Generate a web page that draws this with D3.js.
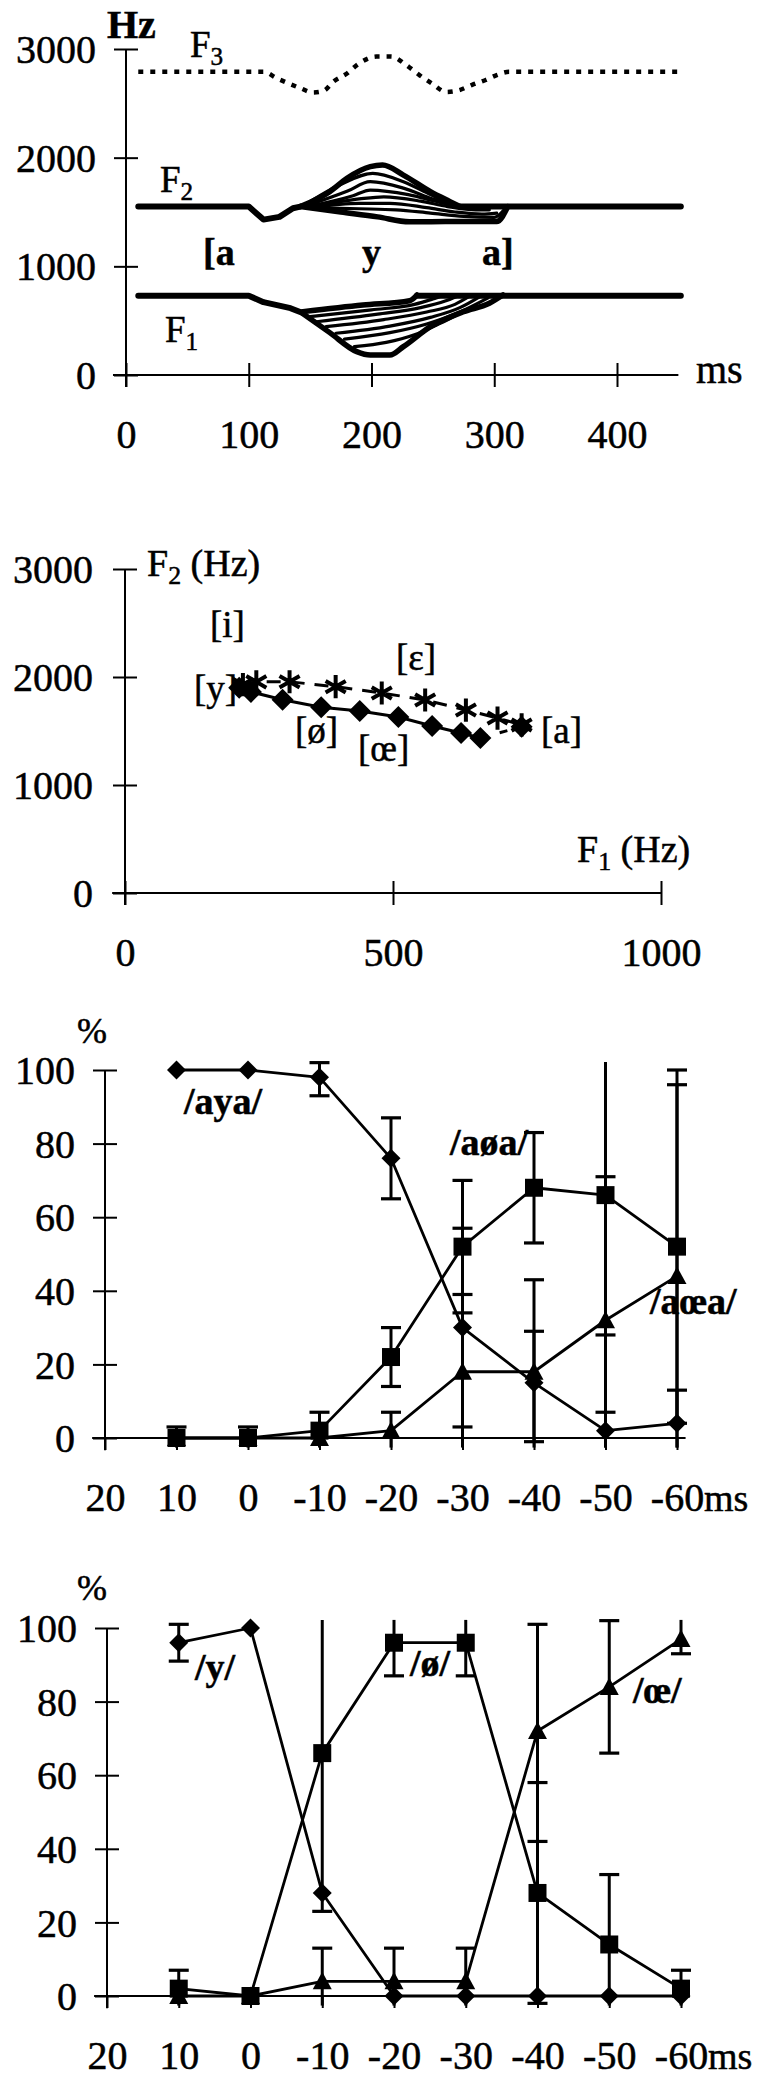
<!DOCTYPE html>
<html>
<head>
<meta charset="utf-8">
<script src="https://cdn.jsdelivr.net/npm/d3@7"></script>
<style>
  body { margin: 0; background: #fff; }
  svg { display: block; }
  text { font-family: "Liberation Serif", "Times New Roman", serif; fill: #000; stroke: #000; stroke-width: 0.5px; }
</style>
</head>
<body>
<div class="container"></div>
<script>
const w = 759;
const h = 2081;

// ---- panel 1: formant tracks [a y a] (ms, Hz)
const msTicks = [0, 100, 200, 300, 400];
const hzTicks = [0, 1000, 2000, 3000];
const f3Track = [[10,2790],[112,2790],[123,2730],[142,2640],[152,2600],[161,2615],[169,2700],[180,2775],[189,2860],[204,2930],[216,2930],[228,2855],[239,2760],[249,2685],[261,2605],[271,2620],[282,2670],[293,2715],[302,2760],[312,2790],[452,2790]];
const f2Left = [[10,1550],[100,1550],[112,1430],[125,1455],[136,1535],[142,1550]];
const f2Right = [[272,1550],[452,1550]];
const f2Fan = [
  [[142,1550],[166,1687],[180,1810],[199,1917],[209,1932],[226,1840],[248,1687],[264,1595],[272,1550]],
  [[145,1560],[174,1748],[201,1856],[226,1779],[248,1660],[266,1570],[274,1550]],
  [[148,1560],[180,1690],[199,1779],[226,1720],[250,1620],[270,1556],[280,1545]],
  [[150,1555],[185,1650],[199,1702],[230,1660],[255,1590],[275,1545],[288,1540]],
  [[152,1550],[190,1620],[210,1640],[240,1600],[262,1550],[285,1520],[296,1520]],
  [[152,1545],[190,1580],[215,1580],[245,1540],[268,1500],[290,1480],[302,1490]],
  [[150,1540],[190,1530],[220,1520],[248,1490],[275,1460],[300,1450],[308,1520]],
  [[142,1550],[175,1500],[205,1455],[231,1410],[260,1412],[302,1412],[311,1550]]
];
const f1Left = [[10,730],[100,730],[112,670],[134,615],[144,570]];
const f1Right = [[237,730],[452,730]];
const f1Fan = [
  [[144,583],[193,644],[231,684],[237,736]],
  [[150,537],[200,600],[235,650],[250,700],[258,730]],
  [[155,490],[205,560],[240,620],[260,680],[270,725]],
  [[163,445],[210,510],[245,580],[268,650],[280,725]],
  [[171,384],[215,450],[248,530],[272,620],[288,720]],
  [[178,330],[215,390],[245,470],[272,580],[295,710]],
  [[186,261],[212,300],[235,370],[255,470],[275,585]],
  [[144,567],[166,390],[188,215],[199,184],[215,184],[226,261],[248,445],[275,583],[296,660],[307,736]]
];

// ---- panel 2: F1/F2 plane
const f1Ticks = [0, 500, 1000];
const f2Ticks = [0, 1000, 2000, 3000];
const diamondF1 = [213, 235, 294, 366, 438, 510, 573, 627, 663];
const diamondF2 = [1900, 1862, 1790, 1720, 1685, 1630, 1546, 1481, 1435];
const starF1 = [220, 245, 307, 393, 479, 560, 636, 695, 740];
const starF2 = [1930, 1955, 1956, 1910, 1852, 1787, 1694, 1620, 1556];
const vowelA = [740, 1540];

// ---- panels 3 and 4: identification (%)
const votTicks = [20, 10, 0, -10, -20, -30, -40, -50, -60];
const vot = [10, 0, -10, -20, -30, -40, -50, -60];
const pctTicks = [0, 20, 40, 60, 80, 100];

const ayaPct = [100, 100, 98, 76, 30, 15, 2, 4];
const ayaErr = [null, null, [93,102], [65,87], [3,57], [-1,29], [-3,7], [-5,13]];
const aoaPct = [0, 0, 2, 22, 52, 68, 66, 52];
const aoaErr = [[-3,3], [-3,3], [-3,7], [14,30], [34,70], [53,83], [28,104], [4,100]];
const aoeaPct = [0, 0, 0, 2, 18, 18, 32, 44];
const aoeaErr = [null, null, null, [-3,7], [-5,39], [-7,43], [-7,71], [-8,96]];

const yPct = [96, 100, 28, 0, 0, 0, 0, 0];
const yErr = [[91,101], null, null, null, null, null, null, null];
const oPct = [2, 0, 66, 96, 96, 28, 14, 2];
const oErr = [[-3,7], null, [23,109], [87,105], [87,105], [-2,58], [-5,33], [-3,7]];
const oePct = [0, 0, 4, 4, 4, 72, 84, 97];
const oeErr = [null, null, [-5,13], [-5,13], [-5,13], [42,101], [66,102], [93,103]];

const serif = '"Liberation Serif", "Times New Roman", serif';
const tickFont = 40;

const svg = d3.select('.container').append('svg')
  .attr('width', w)
  .attr('height', h);

svg.append('rect').attr('width', w).attr('height', h).attr('fill', '#fff');

function txt(g, x, y, s, size, weight) {
  return g.append('text')
    .attr('x', x).attr('y', y)
    .attr('font-size', size)
    .attr('font-weight', weight || 'normal')
    .text(s);
}

function subLabel(g, x, y, main, sub, rest, size) {
  const t = g.append('text').attr('x', x).attr('y', y).attr('font-size', size);
  t.append('tspan').text(main);
  t.append('tspan').attr('font-size', size * 0.68).attr('dy', 8).text(sub);
  if (rest) t.append('tspan').attr('dy', -8).text(rest);
}

function xAxis(g, x, y0, ticks, both, fmt) {
  g.append('g')
    .attr('transform', `translate(0,${y0})`)
    .call(d3.axisBottom(x).tickValues(ticks).tickSize(12).tickFormat(fmt || (d => String(d))))
    .call(a => {
      a.attr('font-size', tickFont).attr('font-family', serif);
      a.select('.domain').remove();
      a.selectAll('.tick line').attr('stroke', '#000').attr('stroke-width', 2)
        .attr('y1', both ? -12 : 0).attr('y2', 12);
      a.selectAll('.tick text').attr('fill', '#000').attr('y', 73).attr('dy', null);
    });
}

function yAxis(g, y, x0, ticks, labelGap) {
  g.append('g')
    .attr('transform', `translate(${x0},0)`)
    .call(d3.axisLeft(y).tickValues(ticks).tickSize(12).tickFormat(d => String(d)))
    .call(a => {
      a.attr('font-size', tickFont).attr('font-family', serif);
      a.select('.domain').remove();
      a.selectAll('.tick line').attr('stroke', '#000').attr('stroke-width', 2)
        .attr('x1', -12).attr('x2', 12);
      a.selectAll('.tick text').attr('fill', '#000').attr('x', -labelGap).attr('dy', '0.34em');
    });
}

function rule(g, x1, y1, x2, y2) {
  g.append('line').attr('x1', x1).attr('y1', y1).attr('x2', x2).attr('y2', y2)
    .attr('stroke', '#000').attr('stroke-width', 2);
}

// ================= panel 1 =================
{
  const g = svg.append('g');
  const x = d3.scaleLinear([0, 400], [126, 617]);
  const y = d3.scaleLinear([0, 3000], [375, 49]);

  rule(g, x(-10.6), y(0), x(450), y(0));
  rule(g, x(0), y(3000), x(0), y(-110));
  xAxis(g, x, y(0), msTicks, true, d3.format('d'));
  yAxis(g, y, x(0), hzTicks, 30);

  const lin = d3.line().x(d => x(d[0])).y(d => y(d[1]));
  const smooth = d3.line().x(d => x(d[0])).y(d => y(d[1])).curve(d3.curveMonotoneX);

  g.append('path').attr('d', smooth(f3Track))
    .attr('fill', 'none').attr('stroke', '#000').attr('stroke-width', 4.5)
    .attr('stroke-dasharray', '5,7');

  [f2Left, f2Right, f1Left, f1Right].forEach(p => {
    g.append('path').attr('d', lin(p))
      .attr('fill', 'none').attr('stroke', '#000').attr('stroke-width', 6)
      .attr('stroke-linejoin', 'round').attr('stroke-linecap', 'round');
  });

  [f2Fan, f1Fan].forEach(fan => {
    fan.forEach((p, i) => {
      const edge = i === 0 || i === fan.length - 1;
      g.append('path').attr('d', smooth(p))
        .attr('fill', 'none').attr('stroke', '#000')
        .attr('stroke-width', edge ? 5.5 : 3.2)
        .attr('stroke-linejoin', 'round').attr('stroke-linecap', 'round');
    });
  });

  txt(g, 107, 38, 'Hz', 40, 'bold');
  subLabel(g, 190, 57, 'F', '3', null, 37);
  subLabel(g, 160, 192, 'F', '2', null, 37);
  subLabel(g, 165, 342, 'F', '1', null, 37);
  txt(g, 203, 265, '[a', 38, 'bold');
  txt(g, 362, 265, 'y', 38, 'bold');
  txt(g, 482, 265, 'a]', 38, 'bold');
  txt(g, 696, 383, 'ms', 40);
}

// ================= panel 2 =================
{
  const g = svg.append('g');
  const x = d3.scaleLinear([0, 1000], [125, 661]);
  const y = d3.scaleLinear([0, 3000], [893, 569]);

  rule(g, x(-24), y(0), x(1000), y(0));
  rule(g, x(0), y(3000), x(0), y(-110));
  xAxis(g, x, y(0), f1Ticks, true, d3.format('d'));
  yAxis(g, y, x(0), f2Ticks, 32);

  const lin = d3.line().x(d => x(d[0])).y(d => y(d[1]));
  const dia = diamondF1.map((v, i) => [v, diamondF2[i]]);
  const star = starF1.map((v, i) => [v, starF2[i]]);

  g.append('path').attr('d', lin(star))
    .attr('fill', 'none').attr('stroke', '#000').attr('stroke-width', 3)
    .attr('stroke-dasharray', '14,10');
  g.append('path').attr('d', lin(dia))
    .attr('fill', 'none').attr('stroke', '#000').attr('stroke-width', 3);
  g.append('path').attr('d', lin([dia[dia.length - 1], vowelA]))
    .attr('fill', 'none').attr('stroke', '#000').attr('stroke-width', 3)
    .attr('stroke-dasharray', '8,12');

  const starSym = d3.symbol(d3.symbolAsterisk, 380);
  g.selectAll('.star').data(star).join('path')
    .attr('transform', d => `translate(${x(d[0])},${y(d[1])})`)
    .attr('d', starSym)
    .attr('fill', 'none').attr('stroke', '#000').attr('stroke-width', 4);

  g.selectAll('.dia').data(dia.concat([vowelA])).join('path')
    .attr('transform', d => `translate(${x(d[0])},${y(d[1])})`)
    .attr('d', 'M0,-11L11,0L0,11L-11,0Z')
    .attr('fill', '#000');

  subLabel(g, 147, 576, 'F', '2', ' (Hz)', 38);
  subLabel(g, 577, 862, 'F', '1', ' (Hz)', 38);
  txt(g, 210, 637, '[i]', 37);
  txt(g, 396, 670, '[\u025b]', 37);
  txt(g, 194, 701, '[y]', 37);
  txt(g, 295, 743, '[\u00f8]', 37);
  txt(g, 358, 761, '[\u0153]', 37);
  txt(g, 541, 743, '[a]', 37);
}

// ================= panels 3 and 4 =================
const shapes = {
  diamond: 'M0,-9.5L9.5,0L0,9.5L-9.5,0Z',
  square: 'M-9,-9H9V9H-9Z',
  triangle: 'M0,-9.5L9.5,8H-9.5Z'
};

function pctPanel(xRange, yRange, series, labels, pctY) {
  const g = svg.append('g');
  const x = d3.scaleLinear([20, -60], xRange);
  const y = d3.scaleLinear([0, 100], yRange);
  const lo = -2.6, hi = 102.2;

  rule(g, x(21.8), y(0), x(-61.2), y(0));
  rule(g, x(20), y(100), x(20), y(-3.3));
  xAxis(g, x, y(0), votTicks, false);
  yAxis(g, y, x(20), pctTicks, 30);

  const lin = d3.line().x((d, i) => x(vot[i])).y(d => y(d));

  series.forEach(s => {
    g.append('path').attr('d', lin(s.vals))
      .attr('fill', 'none').attr('stroke', '#000').attr('stroke-width', 2.8)
      .attr('stroke-linejoin', 'round');
  });

  series.forEach(s => {
    s.err.forEach((e, i) => {
      if (!e) return;
      const a = Math.max(e[0], lo), b = Math.min(e[1], hi);
      const cx = x(vot[i]);
      g.append('line').attr('x1', cx).attr('x2', cx).attr('y1', y(a)).attr('y2', y(b))
        .attr('stroke', '#000').attr('stroke-width', 3);
      [[e[0], a], [e[1], b]].forEach(([raw, v]) => {
        if (raw !== v) return;
        g.append('line').attr('x1', cx - 10).attr('x2', cx + 10).attr('y1', y(v)).attr('y2', y(v))
          .attr('stroke', '#000').attr('stroke-width', 3.2);
      });
    });
  });

  series.forEach(s => {
    g.selectAll(null).data(s.vals).join('path')
      .attr('transform', (d, i) => `translate(${x(vot[i])},${y(d)})`)
      .attr('d', shapes[s.shape])
      .attr('fill', '#000');
  });

  txt(g, 77, pctY, '%', 36);
  txt(g, x(-60) + 27, y(0) + 73, 'ms', 38);
  labels.forEach(l => txt(g, l[0], l[1], l[2], 38, 'bold'));
}

pctPanel([105, 677], [1438, 1070], [
  { vals: ayaPct, err: ayaErr, shape: 'diamond' },
  { vals: aoaPct, err: aoaErr, shape: 'square' },
  { vals: aoeaPct, err: aoeaErr, shape: 'triangle' }
], [
  [184, 1114, '/aya/'],
  [450, 1155, '/a\u00f8a/'],
  [650, 1314, '/a\u0153a/']
], 1043);

pctPanel([107, 681], [1996, 1628], [
  { vals: yPct, err: yErr, shape: 'diamond' },
  { vals: oPct, err: oErr, shape: 'square' },
  { vals: oePct, err: oeErr, shape: 'triangle' }
], [
  [195, 1680, '/y/'],
  [410, 1676, '/\u00f8/'],
  [633, 1703, '/\u0153/']
], 1600);
</script>
</body>
</html>
